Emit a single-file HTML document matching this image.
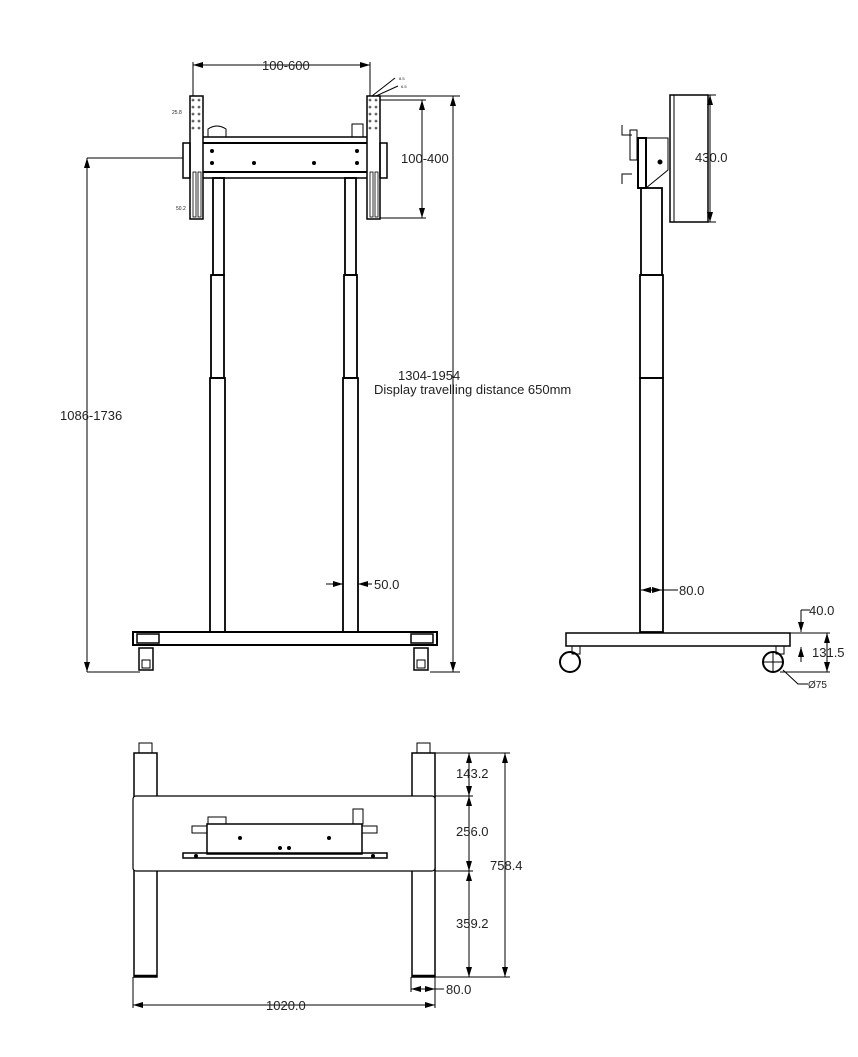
<!DOCTYPE html>
<html><head><meta charset="utf-8"><style>
html,body{margin:0;padding:0;background:#fff;}
svg{display:block}
text{font-family:"Liberation Sans",sans-serif;font-size:13px;fill:#222}
</style></head><body>
<svg width="858" height="1057" viewBox="0 0 858 1057" xmlns="http://www.w3.org/2000/svg">
<defs>
<marker id="a" viewBox="0 0 10 6" refX="10" refY="3" markerWidth="10" markerHeight="6" orient="auto-start-reverse" markerUnits="userSpaceOnUse"><path d="M0,0 L10,3 L0,6 z" fill="#000"/></marker>
</defs>
<g fill="none" stroke="#000" stroke-width="1">
<!-- FRONT VIEW -->
<!-- 100-600 dim -->
<line x1="193" y1="65" x2="370" y2="65" marker-start="url(#a)" marker-end="url(#a)"/>
<line x1="193" y1="62" x2="193" y2="96"/><line x1="370" y1="62" x2="370" y2="96"/>
<line x1="372" y1="96" x2="395" y2="78"/><line x1="376" y1="96" x2="398" y2="86"/>
<!-- brackets -->
<rect x="190" y="96" width="13" height="123" stroke-width="1.5"/>
<rect x="367" y="96" width="13" height="123" stroke-width="1.5"/>
<!-- crossbar -->
<line x1="203" y1="137" x2="367" y2="137" stroke-width="1.5"/>
<line x1="203" y1="143" x2="367" y2="143" stroke-width="2"/>
<line x1="203" y1="172" x2="367" y2="172" stroke-width="2"/>
<line x1="203" y1="178" x2="367" y2="178" stroke-width="1.5"/>
<rect x="183" y="143" width="7" height="35" stroke-width="1.5"/>
<rect x="380" y="143" width="7" height="35" stroke-width="1.5"/>
<path d="M208,137 v-8 q9,-6 18,0 v8"/>
<rect x="352" y="124" width="11" height="13"/>
<!-- slots -->
<g stroke-width="0.8">
<rect x="193" y="172" width="3" height="45"/><rect x="198" y="172" width="3" height="45"/>
<rect x="370" y="172" width="3" height="45"/><rect x="375" y="172" width="3" height="45"/>
</g>
<!-- columns -->
<g stroke-width="1.8">
<rect x="213" y="178" width="11" height="97"/><rect x="211" y="275" width="13" height="103"/><rect x="210" y="378" width="15" height="254"/>
<rect x="345" y="178" width="11" height="97"/><rect x="344" y="275" width="13" height="103"/><rect x="343" y="378" width="15" height="254"/>
</g>
<!-- base -->
<rect x="133" y="632" width="304" height="13" stroke-width="2"/>
<rect x="137" y="634" width="22" height="9" stroke-width="1.5"/>
<rect x="411" y="634" width="22" height="9" stroke-width="1.5"/>
<rect x="139" y="648" width="14" height="22" stroke-width="1.5"/><rect x="142" y="660" width="8" height="8"/>
<rect x="414" y="648" width="14" height="22" stroke-width="1.5"/><rect x="417" y="660" width="8" height="8"/>
<!-- 1086-1736 -->
<line x1="87" y1="158" x2="183" y2="158"/><line x1="87" y1="672" x2="140" y2="672"/>
<line x1="87" y1="158" x2="87" y2="672" marker-start="url(#a)" marker-end="url(#a)"/>
<!-- 1304-1954 -->
<line x1="380" y1="96" x2="460" y2="96"/><line x1="430" y1="672" x2="460" y2="672"/>
<line x1="453" y1="96" x2="453" y2="672" marker-start="url(#a)" marker-end="url(#a)"/>
<!-- 100-400 -->
<line x1="380" y1="100" x2="426" y2="100"/><line x1="380" y1="218" x2="426" y2="218"/>
<line x1="422" y1="100" x2="422" y2="218" marker-start="url(#a)" marker-end="url(#a)"/>
<!-- 50.0 -->
<line x1="326" y1="584" x2="343" y2="584" marker-end="url(#a)"/>
<line x1="372" y1="584" x2="358" y2="584" marker-end="url(#a)"/>

<!-- SIDE VIEW -->
<rect x="670" y="95" width="38" height="127" stroke-width="1.5"/>
<line x1="674" y1="95" x2="674" y2="222"/>
<line x1="708" y1="95" x2="716" y2="95"/><line x1="708" y1="222" x2="716" y2="222"/>
<line x1="710" y1="95" x2="710" y2="222" marker-start="url(#a)" marker-end="url(#a)"/>
<rect x="638" y="138" width="8" height="50" stroke-width="2"/>
<path d="M646,138 H668 V170 L646,188"/>
<rect x="630" y="130" width="7" height="30"/>
<path d="M622,125 v10 h10 M622,184 v-10 h10"/>
<circle cx="660" cy="162" r="2" fill="#000"/>
<g stroke-width="1.8">
<rect x="641" y="188" width="21" height="87"/><rect x="640" y="275" width="23" height="103"/><rect x="640" y="378" width="23" height="254"/>
</g>
<rect x="566" y="633" width="224" height="13" stroke-width="1.5"/>
<circle cx="570" cy="662" r="10" stroke-width="2"/><circle cx="773" cy="662" r="10" stroke-width="2"/>
<line x1="763" y1="662" x2="783" y2="662"/><line x1="773" y1="652" x2="773" y2="672"/>
<rect x="572" y="646" width="8" height="8"/><rect x="776" y="646" width="8" height="8"/>
<line x1="641" y1="590" x2="662" y2="590" marker-start="url(#a)" marker-end="url(#a)"/><line x1="662" y1="590" x2="678" y2="590"/>
<line x1="801" y1="610" x2="810" y2="610"/><line x1="801" y1="610" x2="801" y2="632" marker-end="url(#a)"/>
<line x1="801" y1="662" x2="801" y2="647" marker-end="url(#a)"/>
<line x1="790" y1="633" x2="830" y2="633"/><line x1="780" y1="672" x2="830" y2="672"/>
<line x1="827" y1="633" x2="827" y2="672" marker-start="url(#a)" marker-end="url(#a)"/>
<path d="M783,670 L798,684 H808"/>

<!-- BOTTOM VIEW -->
<rect x="134" y="753" width="23" height="224" stroke-width="1.5"/>
<rect x="412" y="753" width="23" height="224" stroke-width="1.5"/>
<line x1="134" y1="976" x2="157" y2="976" stroke-width="2.5"/><line x1="412" y1="976" x2="435" y2="976" stroke-width="2.5"/>
<rect x="139" y="743" width="13" height="10"/><rect x="417" y="743" width="13" height="10"/>
<rect x="133" y="796" width="302" height="75" rx="3" fill="#fff" stroke-width="1.2"/>
<rect x="207" y="824" width="155" height="30" stroke-width="1.5"/>
<rect x="192" y="826" width="15" height="7"/><rect x="362" y="826" width="15" height="7"/>
<rect x="183" y="853" width="204" height="5" stroke-width="1.5"/>
<rect x="208" y="817" width="18" height="7"/><rect x="353" y="809" width="10" height="15"/>
<line x1="435" y1="753" x2="510" y2="753"/><line x1="435" y1="796" x2="473" y2="796"/>
<line x1="435" y1="871" x2="473" y2="871"/><line x1="435" y1="977" x2="510" y2="977"/>
<line x1="469" y1="753" x2="469" y2="796" marker-start="url(#a)" marker-end="url(#a)"/>
<line x1="469" y1="796" x2="469" y2="871" marker-start="url(#a)" marker-end="url(#a)"/>
<line x1="469" y1="871" x2="469" y2="977" marker-start="url(#a)" marker-end="url(#a)"/>
<line x1="505" y1="753" x2="505" y2="977" marker-start="url(#a)" marker-end="url(#a)"/>
<line x1="133" y1="977" x2="133" y2="1008"/><line x1="435" y1="977" x2="435" y2="1008"/>
<line x1="411" y1="977" x2="411" y2="992"/>
<line x1="133" y1="1005" x2="435" y2="1005" marker-start="url(#a)" marker-end="url(#a)"/>
<line x1="411" y1="989" x2="435" y2="989" marker-start="url(#a)" marker-end="url(#a)"/><line x1="435" y1="989" x2="444" y2="989"/>
</g>
<g fill="#000">
<circle cx="212" cy="151" r="2"/><circle cx="357" cy="151" r="2"/><circle cx="212" cy="163" r="2"/><circle cx="254" cy="163" r="2"/><circle cx="314" cy="163" r="2"/><circle cx="357" cy="163" r="2"/>
<circle cx="240" cy="838" r="2"/><circle cx="329" cy="838" r="2"/><circle cx="280" cy="848" r="2"/><circle cx="289" cy="848" r="2"/>
<circle cx="196" cy="856" r="2"/><circle cx="373" cy="856" r="2"/>
</g>
<g fill="none" stroke="#000" stroke-width="0.6">
<circle cx="193" cy="100" r="1"/><circle cx="199" cy="100" r="1"/><circle cx="193" cy="107" r="1"/><circle cx="199" cy="107" r="1"/><circle cx="193" cy="114" r="1"/><circle cx="199" cy="114" r="1"/><circle cx="193" cy="121" r="1"/><circle cx="199" cy="121" r="1"/><circle cx="193" cy="128" r="1"/><circle cx="199" cy="128" r="1"/>
<circle cx="370" cy="100" r="1"/><circle cx="376" cy="100" r="1"/><circle cx="370" cy="107" r="1"/><circle cx="376" cy="107" r="1"/><circle cx="370" cy="114" r="1"/><circle cx="376" cy="114" r="1"/><circle cx="370" cy="121" r="1"/><circle cx="376" cy="121" r="1"/><circle cx="370" cy="128" r="1"/><circle cx="376" cy="128" r="1"/>
</g>
<text x="262" y="70">100-600</text>
<text x="401" y="163">100-400</text>
<text x="60" y="420">1086-1736</text>
<text x="398" y="380">1304-1954</text>
<text x="374" y="394">Display travelling distance 650mm</text>
<text x="374" y="589">50.0</text>
<text x="695" y="162">430.0</text>
<text x="679" y="595">80.0</text>
<text x="809" y="615">40.0</text>
<text x="812" y="657">131.5</text>
<text x="808" y="688" style="font-size:10px">Ø75</text>
<text x="456" y="778">143.2</text>
<text x="456" y="836">256.0</text>
<text x="456" y="928">359.2</text>
<text x="490" y="870">758.4</text>
<text x="446" y="994">80.0</text>
<text x="266" y="1010">1020.0</text>
<text x="172" y="114" style="font-size:5px">25.8</text>
<text x="176" y="210" style="font-size:5px">50.2</text>
<text x="399" y="80" style="font-size:4px">8.5</text>
<text x="401" y="88" style="font-size:4px">6.5</text>
</svg>
</body></html>
